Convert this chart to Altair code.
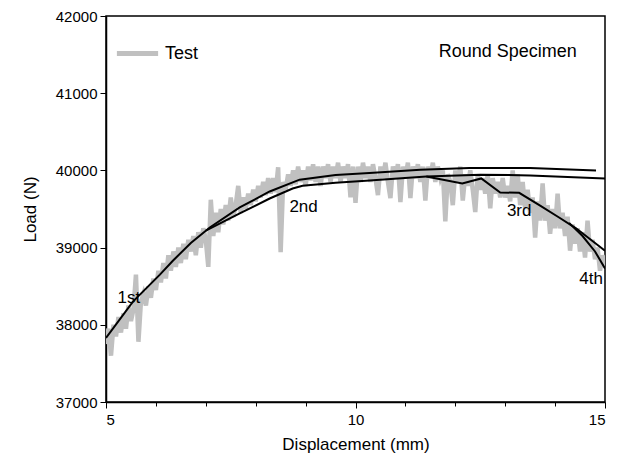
import altair as alt
import pandas as pd

# ---- Test data (gray noisy curve), x in mm, y in N ----
test_x = [round(5 + 0.05 * i, 2) for i in range(201)]
test_y = [
    37750, 37950, 37600, 38000, 37850, 38100, 37900, 38150, 37950, 38250,
    38050, 38200, 38650, 37780, 38300, 38400, 38250, 38500, 38350, 38600,
    38450, 38700, 38550, 38800, 38600, 38900, 38700, 38950, 38750, 39000,
    38800, 39050, 38850, 39100, 38950, 39150, 38900, 39200, 39000, 39250,
    39100, 38750, 39620, 39150, 39450, 39200, 39500, 39300, 39550, 39350,
    39650, 39400, 39550, 39800, 39450, 39650, 39500, 39700, 39550, 39750,
    39600, 39800, 39650, 39850, 39680, 39900, 39700, 39900, 39720, 40040,
    38940, 39850, 39750, 39950, 39800, 40000, 39820, 40050, 39850, 40000,
    39800, 40050, 39870, 40080, 39850, 40050, 39800, 40050, 39900, 40080,
    39850, 40050, 39900, 40100, 39850, 40050, 39900, 40080, 39650, 40050,
    39580, 40050, 39850, 40100, 39900, 40050, 39850, 40080, 39900, 39680,
    40050, 39900, 40100, 39850, 39640, 40050, 39900, 40080, 39590, 40050,
    39900, 40100, 39640, 40050, 39900, 40080, 39850, 40050, 39610, 40050,
    39900, 40100, 39850, 40050, 39900, 40000, 39340, 39950, 39850, 39550,
    40000, 39850, 40050, 39610, 39950, 39800, 40000, 39750, 39460, 39950,
    39750, 39900, 39700, 39950, 39510, 39900, 39700, 39850, 39650, 39900,
    39650, 39800, 39600, 40000, 39650, 39950, 39550, 39850, 39500, 39750,
    39450, 39650, 39130, 39600, 39350, 39830, 39350, 39550, 39180, 39500,
    39250, 39700, 39250, 39450, 39150, 39400, 38960, 39300, 39050, 39250,
    38950, 39200, 38870, 39350, 38950, 39100, 38850, 39000, 38700, 38900,
    38750,
]

# ---- Simulation curves (black) ----
sim_upper_x = [5.0, 5.54, 6.08, 6.34, 6.7, 7.08, 7.68, 8.28, 8.88, 9.6, 10.28, 11.3, 12.28, 13.5, 14.82]
sim_upper_y = [37830, 38300, 38650, 38830, 39060, 39260, 39520, 39727, 39880, 39940, 39965, 40010, 40030, 40030, 40000]

sim_lower_x = [7.0, 7.68, 8.28, 8.74, 8.94, 9.6, 10.28, 11.42, 12.5, 13.5, 15.0]
sim_lower_y = [39220, 39442, 39636, 39766, 39800, 39840, 39870, 39922, 39945, 39935, 39896]

sim_third_x = [11.42, 12.14, 12.52, 12.9, 13.28, 13.7, 14.08, 14.42, 15.0]
sim_third_y = [39922, 39831, 39896, 39714, 39710, 39545, 39390, 39250, 38960]

sim_fourth_x = [14.28, 14.55, 14.8, 15.0]
sim_fourth_y = [39320, 39150, 38950, 38730]

# ---- Annotations ----
label_text = ["1st", "2nd", "3rd", "4th"]
label_x = [5.46, 8.96, 13.28, 14.72]
label_y = [38351, 39520, 39468, 38597]
title_text = ["Round Specimen"]
title_x = [13.05]
title_y = [41532]

FONT = "Liberation Sans"

test_df = pd.DataFrame({"x": test_x, "y": test_y, "series": "Test"})
sim_rows = []
for name, xs, ys in [("upper", sim_upper_x, sim_upper_y), ("lower", sim_lower_x, sim_lower_y),
                     ("third", sim_third_x, sim_third_y), ("fourth", sim_fourth_x, sim_fourth_y)]:
    for a, b in zip(xs, ys):
        sim_rows.append({"x": a, "y": b, "sim": name})
sim_df = pd.DataFrame(sim_rows)
lab_df = pd.DataFrame({"x": label_x, "y": label_y, "t": label_text})
ttl_df = pd.DataFrame({"x": title_x, "y": title_y, "t": title_text})

xscale = alt.Scale(domain=[5, 15], nice=False, zero=False)
yscale = alt.Scale(domain=[37000, 42000], nice=False, zero=False)

xaxis = alt.Axis(
    title="Displacement (mm)", values=list(range(5, 16)),
    labelExpr="datum.value % 5 === 0 ? datum.label : ''",
    tickSize={"condition": {"test": "datum.value % 5 === 0", "value": 6}, "value": 4},
    grid=False, labelFontSize=15, titleFontSize=17, titlePadding=9,
    labelPadding=4,
)
yaxis = alt.Axis(
    title="Load (N)", values=list(range(37000, 42001, 500)), format="d",
    labelExpr="datum.value % 1000 === 0 ? datum.label : ''",
    tickSize={"condition": {"test": "datum.value % 1000 === 0", "value": 6}, "value": 4},
    grid=False, labelFontSize=15, titleFontSize=17, titlePadding=16,
    labelPadding=3,
)

test_line = alt.Chart(test_df).mark_line(strokeWidth=4.5, clip=True).encode(
    x=alt.X("x:Q", scale=xscale, axis=xaxis),
    y=alt.Y("y:Q", scale=yscale, axis=yaxis),
    color=alt.Color(
        "series:N",
        scale=alt.Scale(domain=["Test"], range=["#c0c0c0"]),
        legend=alt.Legend(
            title=None, orient="none", legendX=8, legendY=14,
            symbolType="stroke", symbolSize=1700, symbolStrokeWidth=5,
            labelFontSize=18, labelFont=FONT, labelColor="black", padding=0, labelOffset=4,
        ),
    ),
)

sim_lines = alt.Chart(sim_df).mark_line(strokeWidth=2, color="black", clip=True).encode(
    x="x:Q", y="y:Q", detail="sim:N",
)

labels = alt.Chart(lab_df).mark_text(fontSize=17, font=FONT, color="black").encode(
    x="x:Q", y="y:Q", text="t:N",
)
ttl = alt.Chart(ttl_df).mark_text(fontSize=18, font=FONT, color="black").encode(
    x="x:Q", y="y:Q", text="t:N",
)

chart = alt.layer(test_line, sim_lines, labels, ttl).properties(
    width=499, height=386,
    autosize=alt.AutoSizeParams(type="none"),
    padding={"left": 98, "top": 8, "right": 15, "bottom": 60},
).configure_view(
    stroke="black", strokeWidth=1.5,
).configure_axis(
    domainColor="black", tickColor="black", labelColor="black", titleColor="black",
    labelFont=FONT, titleFont=FONT, titleFontWeight="normal", domainWidth=1.5,
)

chart.save("out.html", embed_options={"renderer": "svg", "actions": False})
